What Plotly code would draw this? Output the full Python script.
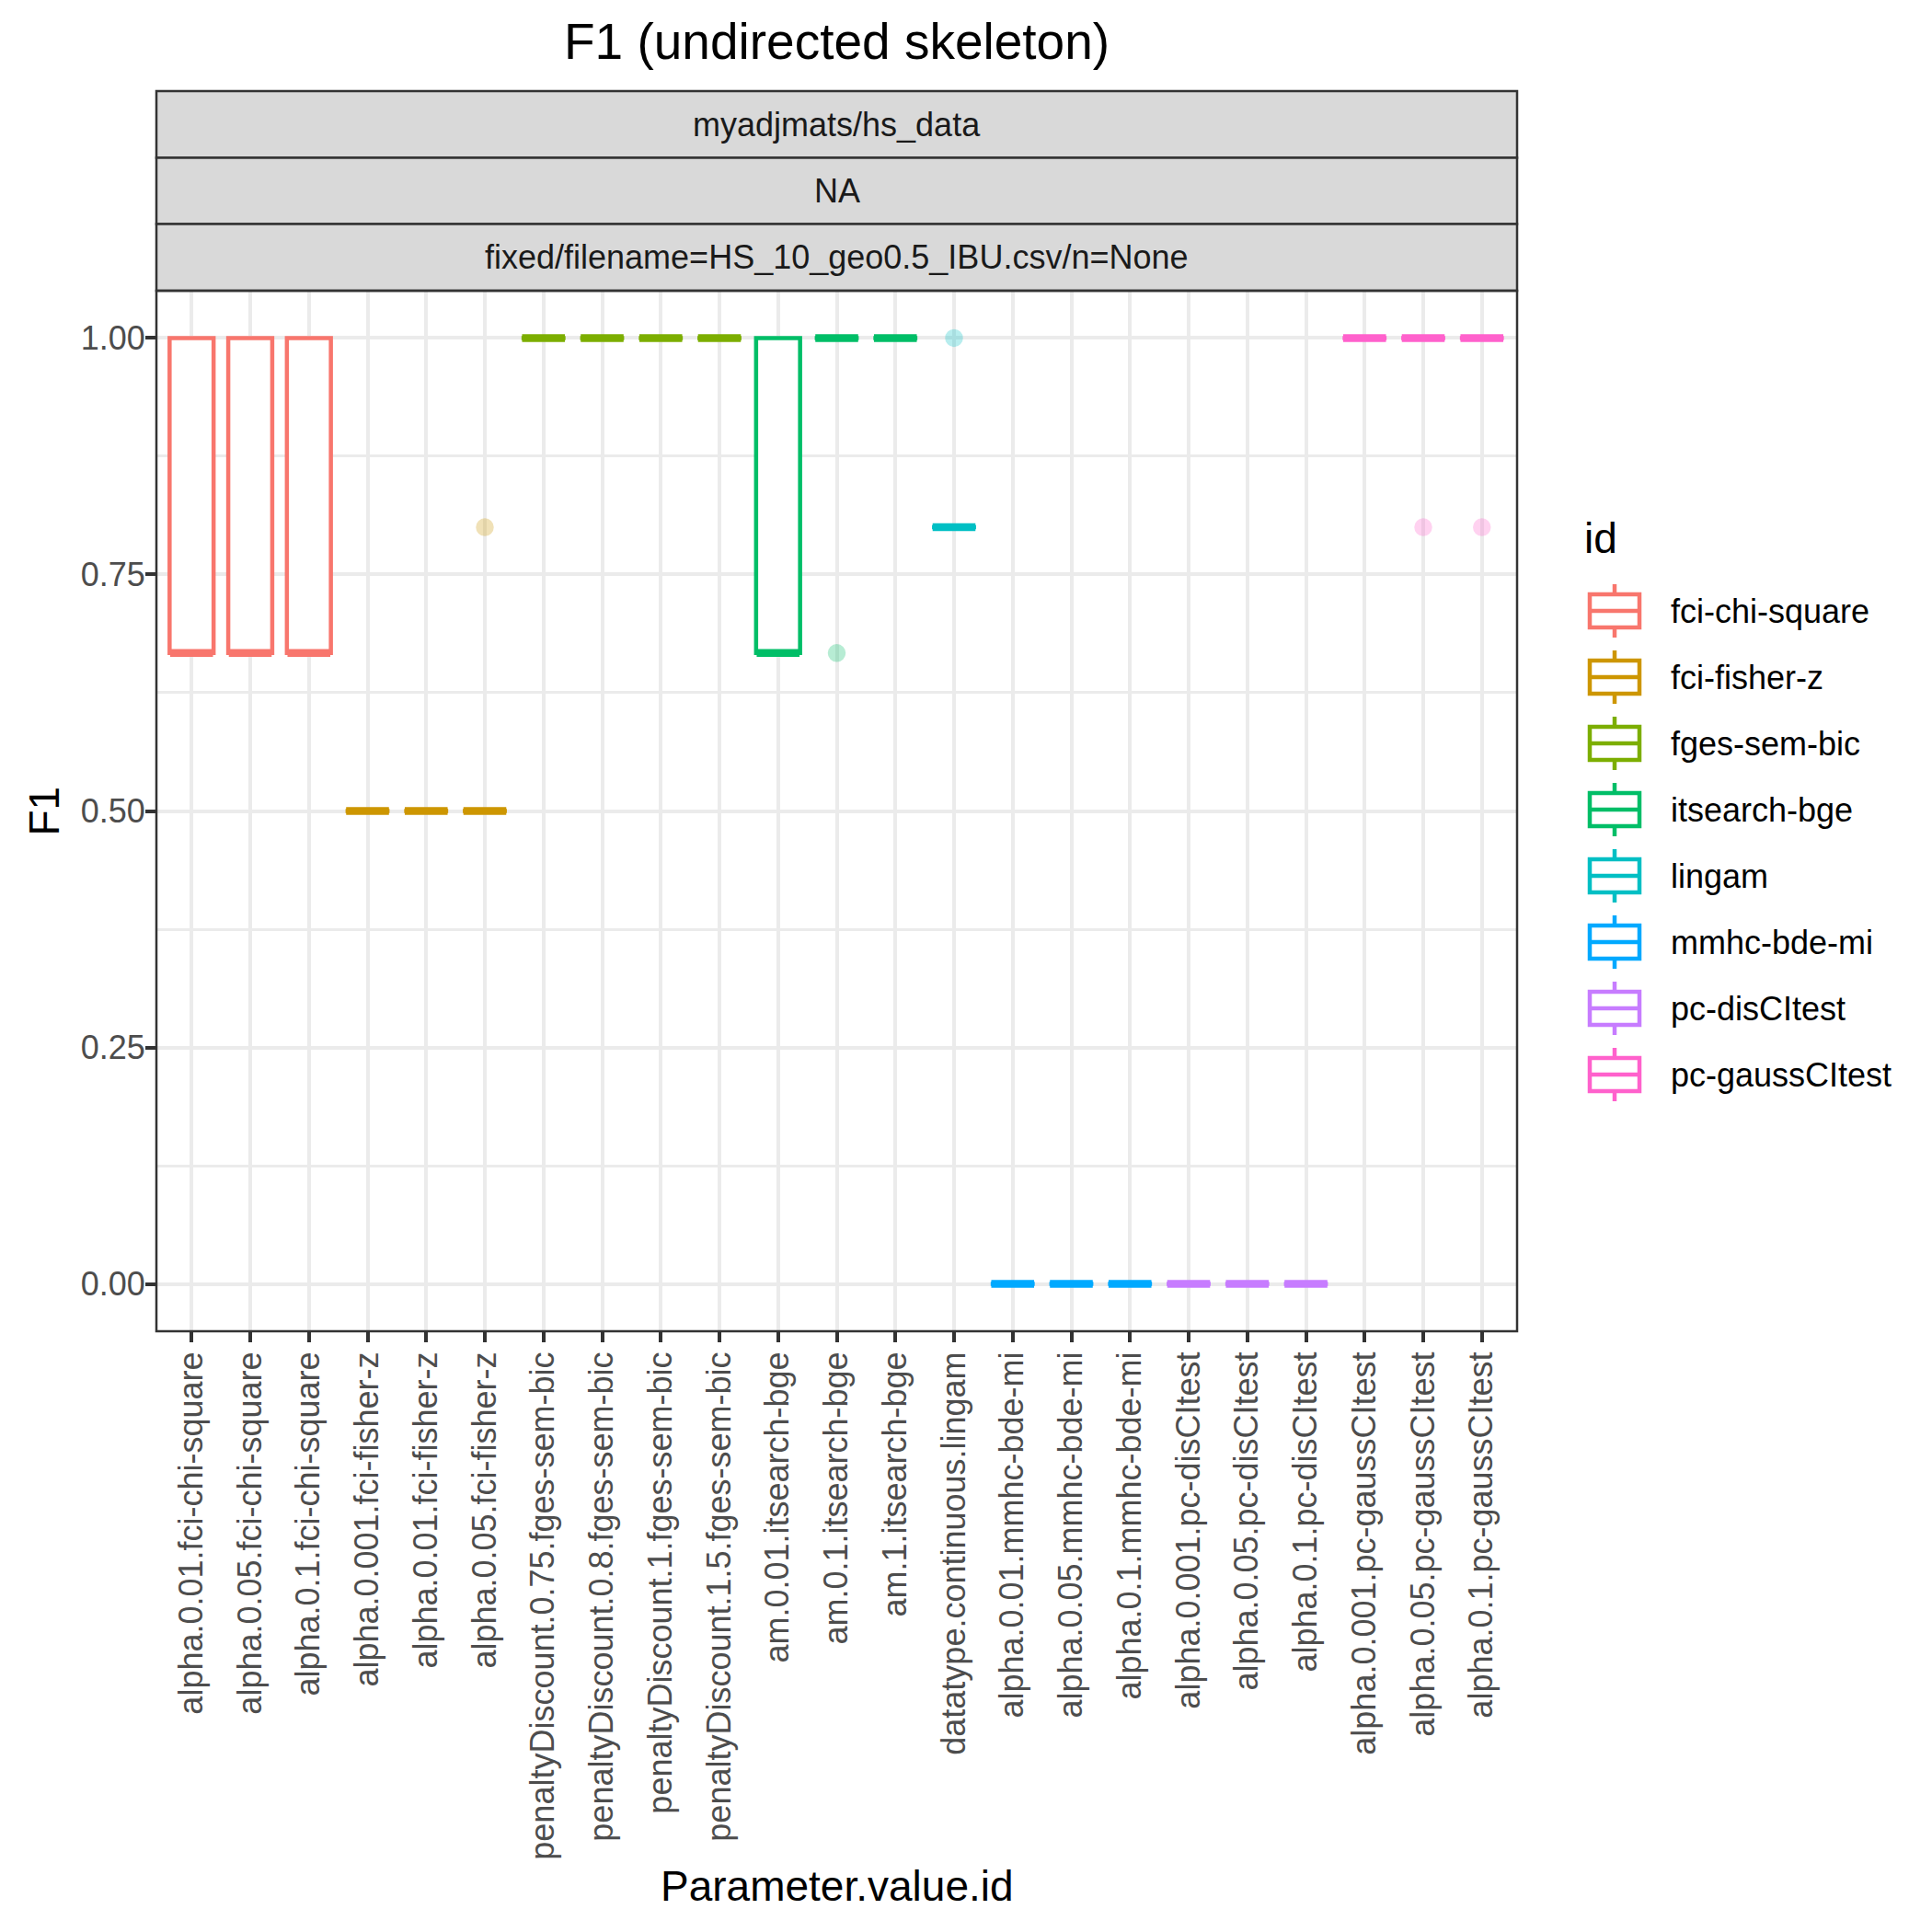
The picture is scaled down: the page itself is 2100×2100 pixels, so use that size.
import plotly.graph_objects as go

# ---------------- data ----------------
categories = [
    "alpha.0.01.fci-chi-square", "alpha.0.05.fci-chi-square", "alpha.0.1.fci-chi-square",
    "alpha.0.001.fci-fisher-z", "alpha.0.01.fci-fisher-z", "alpha.0.05.fci-fisher-z",
    "penaltyDiscount.0.75.fges-sem-bic", "penaltyDiscount.0.8.fges-sem-bic",
    "penaltyDiscount.1.fges-sem-bic", "penaltyDiscount.1.5.fges-sem-bic",
    "am.0.01.itsearch-bge", "am.0.1.itsearch-bge", "am.1.itsearch-bge",
    "datatype.continuous.lingam",
    "alpha.0.01.mmhc-bde-mi", "alpha.0.05.mmhc-bde-mi", "alpha.0.1.mmhc-bde-mi",
    "alpha.0.001.pc-disCItest", "alpha.0.05.pc-disCItest", "alpha.0.1.pc-disCItest",
    "alpha.0.001.pc-gaussCItest", "alpha.0.05.pc-gaussCItest", "alpha.0.1.pc-gaussCItest",
]
category_id = [
    "fci-chi-square", "fci-chi-square", "fci-chi-square",
    "fci-fisher-z", "fci-fisher-z", "fci-fisher-z",
    "fges-sem-bic", "fges-sem-bic", "fges-sem-bic", "fges-sem-bic",
    "itsearch-bge", "itsearch-bge", "itsearch-bge",
    "lingam",
    "mmhc-bde-mi", "mmhc-bde-mi", "mmhc-bde-mi",
    "pc-disCItest", "pc-disCItest", "pc-disCItest",
    "pc-gaussCItest", "pc-gaussCItest", "pc-gaussCItest",
]
lower_whisker = [0.667, 0.667, 0.667, 0.5, 0.5, 0.5, 1, 1, 1, 1, 0.667, 1, 1, 0.8, 0, 0, 0, 0, 0, 0, 1, 1, 1]
q1_values     = [0.667, 0.667, 0.667, 0.5, 0.5, 0.5, 1, 1, 1, 1, 0.667, 1, 1, 0.8, 0, 0, 0, 0, 0, 0, 1, 1, 1]
median_values = [0.667, 0.667, 0.667, 0.5, 0.5, 0.5, 1, 1, 1, 1, 0.667, 1, 1, 0.8, 0, 0, 0, 0, 0, 0, 1, 1, 1]
q3_values     = [1.0, 1.0, 1.0, 0.5, 0.5, 0.5, 1, 1, 1, 1, 1.0, 1, 1, 0.8, 0, 0, 0, 0, 0, 0, 1, 1, 1]
upper_whisker = [1.0, 1.0, 1.0, 0.5, 0.5, 0.5, 1, 1, 1, 1, 1.0, 1, 1, 0.8, 0, 0, 0, 0, 0, 0, 1, 1, 1]

outlier_category = ["alpha.0.05.fci-fisher-z", "am.0.1.itsearch-bge", "datatype.continuous.lingam",
                    "alpha.0.05.pc-gaussCItest", "alpha.0.1.pc-gaussCItest"]
outlier_value = [0.8, 0.667, 1.0, 0.8, 0.8]

id_levels = ["fci-chi-square", "fci-fisher-z", "fges-sem-bic", "itsearch-bge",
             "lingam", "mmhc-bde-mi", "pc-disCItest", "pc-gaussCItest"]
id_colors = ["#F8766D", "#CD9600", "#7CAE00", "#00BE67", "#00BFC4", "#00A9FF", "#C77CFF", "#FF61CC"]

y_tick_values = [0, 0.25, 0.5, 0.75, 1.0]
y_tick_labels = ["0.00", "0.25", "0.50", "0.75", "1.00"]
y_minor_values = [0.125, 0.375, 0.625, 0.875]

strip_labels = ["myadjmats/hs_data", "NA", "fixed/filename=HS_10_geo0.5_IBU.csv/n=None"]
title_text = "F1 (undirected skeleton)"
x_title = "Parameter.value.id"
y_title = "F1"
legend_title = "id"

# ---------------- layout geometry (pixels, page offset 8 px) ----------------
W = H = 2100
OFF = 8
PL, PR, PT, PB = 170 - OFF, 1649 - OFF, 316 - OFF, 1447 - OFF
FONT = "Liberation Sans, Arial, Helvetica, sans-serif"
BOXW = 0.75


def xp(px):
    return (px - OFF - PL) / (PR - PL)


def yp(py):
    return (PB - (py - OFF)) / (PB - PT)


fig = go.Figure()

pos = {c: i for i, c in enumerate(categories)}

for gid, col in zip(id_levels, id_colors):
    idx = [i for i, c in enumerate(category_id) if c == gid]
    fig.add_trace(go.Box(
        x=idx,
        q1=[q1_values[i] for i in idx],
        median=[median_values[i] for i in idx],
        q3=[q3_values[i] for i in idx],
        lowerfence=[lower_whisker[i] for i in idx],
        upperfence=[upper_whisker[i] for i in idx],
        width=BOXW, whiskerwidth=0,
        fillcolor="white",
        line=dict(color=col, width=4.5),
        showlegend=False, hoverinfo="skip", name=gid,
    ))
    xs, ys = [], []
    for i in idx:
        xs += [i - BOXW / 2 + 0.01, i + BOXW / 2 - 0.01, None]
        ys += [median_values[i], median_values[i], None]
    fig.add_trace(go.Scatter(
        x=xs, y=ys, mode="lines",
        line=dict(color=col, width=8.5),
        showlegend=False, hoverinfo="skip",
    ))
    ox = [pos[c] for c, v in zip(outlier_category, outlier_value) if category_id[pos[c]] == gid]
    oy = [v for c, v in zip(outlier_category, outlier_value) if category_id[pos[c]] == gid]
    if ox:
        fig.add_trace(go.Scatter(
            x=ox, y=oy, mode="markers",
            marker=dict(size=18, color=col, opacity=0.28,
                        line=dict(color=col, width=1.5)),
            showlegend=False, hoverinfo="skip",
        ))

shapes = []
# strips (screen pixel edges)
strip_edges = [99, 171.5, 243.5, 316]
for k in range(3):
    shapes.append(dict(type="rect", xref="paper", yref="paper",
                       x0=0, x1=1, y0=yp(strip_edges[k + 1]), y1=yp(strip_edges[k]),
                       fillcolor="#D9D9D9", line=dict(color="#333333", width=2.5)))
# panel border
shapes.append(dict(type="rect", xref="paper", yref="paper", x0=0, x1=1, y0=0, y1=1,
                   line=dict(color="#333333", width=2.5), fillcolor="rgba(0,0,0,0)", layer="above"))

annotations = []
for k, lab in enumerate(strip_labels):
    annotations.append(dict(text=lab, xref="paper", yref="paper", x=0.5,
                            y=yp((strip_edges[k] + strip_edges[k + 1]) / 2),
                            xanchor="center", yanchor="middle", showarrow=False,
                            font=dict(family=FONT, size=36, color="#1A1A1A")))
annotations.append(dict(text=title_text, xref="paper", yref="paper", x=0.5, y=yp(45),
                        xanchor="center", yanchor="middle", showarrow=False,
                        font=dict(family=FONT, size=55, color="black")))
annotations.append(dict(text=x_title, xref="paper", yref="paper", x=0.5, y=yp(2050),
                        xanchor="center", yanchor="middle", showarrow=False,
                        font=dict(family=FONT, size=46, color="black")))
annotations.append(dict(text=y_title, xref="paper", yref="paper", x=xp(47), y=0.5,
                        xanchor="center", yanchor="middle", showarrow=False, textangle=-90,
                        font=dict(family=FONT, size=46, color="black")))

# custom ggplot-style legend
annotations.append(dict(text=legend_title, xref="paper", yref="paper", x=xp(1720), y=yp(585),
                        xanchor="left", yanchor="middle", showarrow=False,
                        font=dict(family=FONT, size=46, color="black")))
KEY_CX, KEY_CY0, KEY_STEP = 1755, 664, 72
for k, (gid, col) in enumerate(zip(id_levels, id_colors)):
    cy = KEY_CY0 + KEY_STEP * k
    lw = 4.5
    shapes.append(dict(type="rect", xref="paper", yref="paper",
                       x0=xp(KEY_CX - 27), x1=xp(KEY_CX + 27), y0=yp(cy + 18), y1=yp(cy - 18),
                       fillcolor="white", line=dict(color=col, width=lw)))
    shapes.append(dict(type="line", xref="paper", yref="paper",
                       x0=xp(KEY_CX - 27), x1=xp(KEY_CX + 27), y0=yp(cy), y1=yp(cy),
                       line=dict(color=col, width=lw)))
    shapes.append(dict(type="line", xref="paper", yref="paper",
                       x0=xp(KEY_CX), x1=xp(KEY_CX), y0=yp(cy - 18), y1=yp(cy - 29),
                       line=dict(color=col, width=lw)))
    shapes.append(dict(type="line", xref="paper", yref="paper",
                       x0=xp(KEY_CX), x1=xp(KEY_CX), y0=yp(cy + 18), y1=yp(cy + 29),
                       line=dict(color=col, width=lw)))
    annotations.append(dict(text=gid, xref="paper", yref="paper", x=xp(1814), y=yp(cy),
                            xanchor="left", yanchor="middle", showarrow=False,
                            font=dict(family=FONT, size=36, color="black")))

fig.update_layout(
    width=W, height=H,
    margin=dict(l=PL, r=W - PR, t=PT, b=H - PB, autoexpand=False),
    paper_bgcolor="white", plot_bgcolor="white",
    boxmode="overlay", showlegend=False,
    font=dict(family=FONT, size=36, color="#4D4D4D"),
    shapes=shapes, annotations=annotations,
    xaxis=dict(
        range=[-0.6, len(categories) - 0.4],
        tickmode="array", tickvals=list(range(len(categories))), ticktext=categories,
        tickangle=-90, tickfont=dict(family=FONT, size=36, color="#4D4D4D"),
        showgrid=True, gridcolor="#EBEBEB", gridwidth=4,
        ticks="outside", ticklen=11, tickwidth=4, tickcolor="#333333",
        ticklabelstandoff=-4,
        zeroline=False, showline=False, fixedrange=True,
    ),
    yaxis=dict(
        range=[-0.05, 1.05],
        tickmode="array", tickvals=y_tick_values, ticktext=y_tick_labels,
        tickfont=dict(family=FONT, size=36, color="#4D4D4D"),
        showgrid=True, gridcolor="#EBEBEB", gridwidth=4,
        minor=dict(tickmode="array", tickvals=y_minor_values, showgrid=True,
                   gridcolor="#EBEBEB", gridwidth=2.5, ticks=""),
        ticks="outside", ticklen=11, tickwidth=4, tickcolor="#333333",
        ticklabelstandoff=-7,
        zeroline=False, showline=False, fixedrange=True,
    ),
)

fig.write_html("out.html")
